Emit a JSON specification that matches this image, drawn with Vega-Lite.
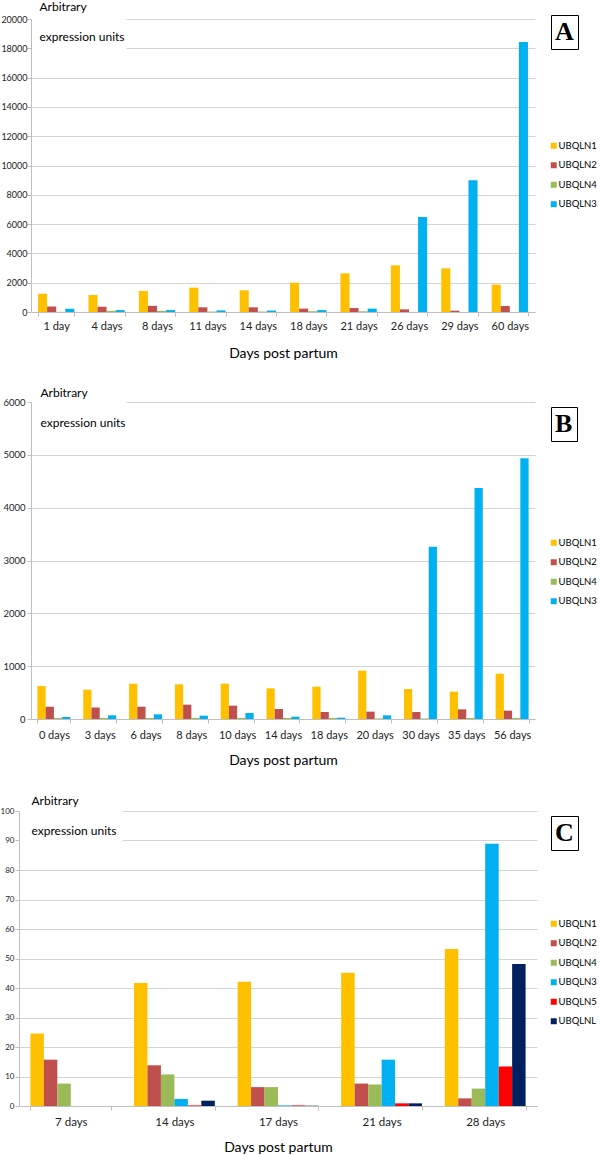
{
  "$schema": "https://vega.github.io/schema/vega-lite/v6.json",
  "padding": {"left": 0, "top": 0, "right": 0, "bottom": 0},
  "config": {
    "font": "Lato",
    "view": {"stroke": null},
    "axis": {"domainColor": "#BFBFBF", "tickColor": "#BFBFBF", "gridColor": "#D4D4D4", "labelColor": "#222", "labelFont": "Lato", "titleFont": "Lato", "titleFontWeight": "normal", "titleColor": "#000", "tickSize": 4},
    "legend": {"labelFont": "Lato", "labelColor": "#000"}
  },
  "datasets": {
    "A": [
      {"day": "1 day", "gene": "UBQLN1", "value": 1250, "panel": "A"},
      {"day": "1 day", "gene": "UBQLN2", "value": 370, "panel": "A"},
      {"day": "1 day", "gene": "UBQLN4", "value": 10, "panel": "A"},
      {"day": "1 day", "gene": "UBQLN3", "value": 220, "panel": "A"},
      {"day": "4 days", "gene": "UBQLN1", "value": 1160, "panel": "A"},
      {"day": "4 days", "gene": "UBQLN2", "value": 360, "panel": "A"},
      {"day": "4 days", "gene": "UBQLN4", "value": 80, "panel": "A"},
      {"day": "4 days", "gene": "UBQLN3", "value": 130, "panel": "A"},
      {"day": "8 days", "gene": "UBQLN1", "value": 1430, "panel": "A"},
      {"day": "8 days", "gene": "UBQLN2", "value": 420, "panel": "A"},
      {"day": "8 days", "gene": "UBQLN4", "value": 80, "panel": "A"},
      {"day": "8 days", "gene": "UBQLN3", "value": 130, "panel": "A"},
      {"day": "11 days", "gene": "UBQLN1", "value": 1660, "panel": "A"},
      {"day": "11 days", "gene": "UBQLN2", "value": 320, "panel": "A"},
      {"day": "11 days", "gene": "UBQLN4", "value": 30, "panel": "A"},
      {"day": "11 days", "gene": "UBQLN3", "value": 110, "panel": "A"},
      {"day": "14 days", "gene": "UBQLN1", "value": 1480, "panel": "A"},
      {"day": "14 days", "gene": "UBQLN2", "value": 320, "panel": "A"},
      {"day": "14 days", "gene": "UBQLN4", "value": 30, "panel": "A"},
      {"day": "14 days", "gene": "UBQLN3", "value": 100, "panel": "A"},
      {"day": "18 days", "gene": "UBQLN1", "value": 2000, "panel": "A"},
      {"day": "18 days", "gene": "UBQLN2", "value": 230, "panel": "A"},
      {"day": "18 days", "gene": "UBQLN4", "value": 50, "panel": "A"},
      {"day": "18 days", "gene": "UBQLN3", "value": 130, "panel": "A"},
      {"day": "21 days", "gene": "UBQLN1", "value": 2640, "panel": "A"},
      {"day": "21 days", "gene": "UBQLN2", "value": 270, "panel": "A"},
      {"day": "21 days", "gene": "UBQLN4", "value": 50, "panel": "A"},
      {"day": "21 days", "gene": "UBQLN3", "value": 230, "panel": "A"},
      {"day": "26 days", "gene": "UBQLN1", "value": 3190, "panel": "A"},
      {"day": "26 days", "gene": "UBQLN2", "value": 180, "panel": "A"},
      {"day": "26 days", "gene": "UBQLN4", "value": 0, "panel": "A"},
      {"day": "26 days", "gene": "UBQLN3", "value": 6490, "panel": "A"},
      {"day": "29 days", "gene": "UBQLN1", "value": 2980, "panel": "A"},
      {"day": "29 days", "gene": "UBQLN2", "value": 90, "panel": "A"},
      {"day": "29 days", "gene": "UBQLN4", "value": 0, "panel": "A"},
      {"day": "29 days", "gene": "UBQLN3", "value": 9000, "panel": "A"},
      {"day": "60 days", "gene": "UBQLN1", "value": 1870, "panel": "A"},
      {"day": "60 days", "gene": "UBQLN2", "value": 410, "panel": "A"},
      {"day": "60 days", "gene": "UBQLN4", "value": 0, "panel": "A"},
      {"day": "60 days", "gene": "UBQLN3", "value": 18430, "panel": "A"}
    ],
    "B": [
      {"day": "0 days", "gene": "UBQLN1", "value": 625, "panel": "B"},
      {"day": "0 days", "gene": "UBQLN2", "value": 233, "panel": "B"},
      {"day": "0 days", "gene": "UBQLN4", "value": 20, "panel": "B"},
      {"day": "0 days", "gene": "UBQLN3", "value": 38, "panel": "B"},
      {"day": "3 days", "gene": "UBQLN1", "value": 555, "panel": "B"},
      {"day": "3 days", "gene": "UBQLN2", "value": 220, "panel": "B"},
      {"day": "3 days", "gene": "UBQLN4", "value": 20, "panel": "B"},
      {"day": "3 days", "gene": "UBQLN3", "value": 70, "panel": "B"},
      {"day": "6 days", "gene": "UBQLN1", "value": 669, "panel": "B"},
      {"day": "6 days", "gene": "UBQLN2", "value": 233, "panel": "B"},
      {"day": "6 days", "gene": "UBQLN4", "value": 20, "panel": "B"},
      {"day": "6 days", "gene": "UBQLN3", "value": 88, "panel": "B"},
      {"day": "8 days", "gene": "UBQLN1", "value": 656, "panel": "B"},
      {"day": "8 days", "gene": "UBQLN2", "value": 271, "panel": "B"},
      {"day": "8 days", "gene": "UBQLN4", "value": 20, "panel": "B"},
      {"day": "8 days", "gene": "UBQLN3", "value": 63, "panel": "B"},
      {"day": "10 days", "gene": "UBQLN1", "value": 669, "panel": "B"},
      {"day": "10 days", "gene": "UBQLN2", "value": 252, "panel": "B"},
      {"day": "10 days", "gene": "UBQLN4", "value": 20, "panel": "B"},
      {"day": "10 days", "gene": "UBQLN3", "value": 114, "panel": "B"},
      {"day": "14 days", "gene": "UBQLN1", "value": 580, "panel": "B"},
      {"day": "14 days", "gene": "UBQLN2", "value": 189, "panel": "B"},
      {"day": "14 days", "gene": "UBQLN4", "value": 20, "panel": "B"},
      {"day": "14 days", "gene": "UBQLN3", "value": 44, "panel": "B"},
      {"day": "18 days", "gene": "UBQLN1", "value": 612, "panel": "B"},
      {"day": "18 days", "gene": "UBQLN2", "value": 132, "panel": "B"},
      {"day": "18 days", "gene": "UBQLN4", "value": 20, "panel": "B"},
      {"day": "18 days", "gene": "UBQLN3", "value": 25, "panel": "B"},
      {"day": "20 days", "gene": "UBQLN1", "value": 915, "panel": "B"},
      {"day": "20 days", "gene": "UBQLN2", "value": 139, "panel": "B"},
      {"day": "20 days", "gene": "UBQLN4", "value": 10, "panel": "B"},
      {"day": "20 days", "gene": "UBQLN3", "value": 70, "panel": "B"},
      {"day": "30 days", "gene": "UBQLN1", "value": 568, "panel": "B"},
      {"day": "30 days", "gene": "UBQLN2", "value": 132, "panel": "B"},
      {"day": "30 days", "gene": "UBQLN4", "value": 10, "panel": "B"},
      {"day": "30 days", "gene": "UBQLN3", "value": 3262, "panel": "B"},
      {"day": "35 days", "gene": "UBQLN1", "value": 517, "panel": "B"},
      {"day": "35 days", "gene": "UBQLN2", "value": 183, "panel": "B"},
      {"day": "35 days", "gene": "UBQLN4", "value": 20, "panel": "B"},
      {"day": "35 days", "gene": "UBQLN3", "value": 4372, "panel": "B"},
      {"day": "56 days", "gene": "UBQLN1", "value": 858, "panel": "B"},
      {"day": "56 days", "gene": "UBQLN2", "value": 158, "panel": "B"},
      {"day": "56 days", "gene": "UBQLN4", "value": 20, "panel": "B"},
      {"day": "56 days", "gene": "UBQLN3", "value": 4934, "panel": "B"}
    ],
    "C": [
      {"day": "7 days", "gene": "UBQLN1", "value": 24.6, "panel": "C"},
      {"day": "7 days", "gene": "UBQLN2", "value": 15.7, "panel": "C"},
      {"day": "7 days", "gene": "UBQLN4", "value": 7.6, "panel": "C"},
      {"day": "7 days", "gene": "UBQLN3", "value": 0, "panel": "C"},
      {"day": "7 days", "gene": "UBQLN5", "value": 0, "panel": "C"},
      {"day": "7 days", "gene": "UBQLNL", "value": 0, "panel": "C"},
      {"day": "14 days", "gene": "UBQLN1", "value": 41.7, "panel": "C"},
      {"day": "14 days", "gene": "UBQLN2", "value": 13.8, "panel": "C"},
      {"day": "14 days", "gene": "UBQLN4", "value": 10.7, "panel": "C"},
      {"day": "14 days", "gene": "UBQLN3", "value": 2.4, "panel": "C"},
      {"day": "14 days", "gene": "UBQLN5", "value": 0.2, "panel": "C"},
      {"day": "14 days", "gene": "UBQLNL", "value": 1.8, "panel": "C"},
      {"day": "17 days", "gene": "UBQLN1", "value": 42.1, "panel": "C"},
      {"day": "17 days", "gene": "UBQLN2", "value": 6.4, "panel": "C"},
      {"day": "17 days", "gene": "UBQLN4", "value": 6.4, "panel": "C"},
      {"day": "17 days", "gene": "UBQLN3", "value": 0.2, "panel": "C"},
      {"day": "17 days", "gene": "UBQLN5", "value": 0.2, "panel": "C"},
      {"day": "17 days", "gene": "UBQLNL", "value": 0.1, "panel": "C"},
      {"day": "21 days", "gene": "UBQLN1", "value": 45.2, "panel": "C"},
      {"day": "21 days", "gene": "UBQLN2", "value": 7.6, "panel": "C"},
      {"day": "21 days", "gene": "UBQLN4", "value": 7.3, "panel": "C"},
      {"day": "21 days", "gene": "UBQLN3", "value": 15.7, "panel": "C"},
      {"day": "21 days", "gene": "UBQLN5", "value": 0.9, "panel": "C"},
      {"day": "21 days", "gene": "UBQLNL", "value": 0.9, "panel": "C"},
      {"day": "28 days", "gene": "UBQLN1", "value": 53.2, "panel": "C"},
      {"day": "28 days", "gene": "UBQLN2", "value": 2.6, "panel": "C"},
      {"day": "28 days", "gene": "UBQLN4", "value": 5.9, "panel": "C"},
      {"day": "28 days", "gene": "UBQLN3", "value": 88.9, "panel": "C"},
      {"day": "28 days", "gene": "UBQLN5", "value": 13.4, "panel": "C"},
      {"day": "28 days", "gene": "UBQLNL", "value": 48.1, "panel": "C"}
    ]
  },
  "columns": 1,
  "spacing": 26,
  "align": "none",
  "resolve": {
    "scale": {"x": "independent", "y": "independent", "xOffset": "independent", "color": "independent", "opacity": "independent"},
    "legend": {"color": "independent", "opacity": "independent"}
  },
  "concat": [
    {
      "data": {"name": "A"},
      "width": 516,
      "height": 293,
      "mark": {"type": "bar"},
      "encoding": {
        "x": {"field": "day", "type": "nominal", "sort": null,
          "scale": {"range": [12, 516], "paddingInner": 0.28, "paddingOuter": 0.14},
          "axis": {"title": "Days post partum", "titleX": 264, "labelAngle": 0, "tickBand": "extent", "labelFontSize": 11, "labelPadding": 4, "titleFontSize": 14, "titlePadding": 15}},
        "xOffset": {"field": "gene", "type": "nominal", "sort": ["UBQLN1", "UBQLN2", "UBQLN4", "UBQLN3"], "scale": {"paddingInner": 0, "paddingOuter": 0}},
        "y": {"field": "value", "type": "quantitative", "scale": {"domain": [0, 20000], "nice": false},
          "axis": {"offset": -12, "values": [0, 2000, 4000, 6000, 8000, 10000, 12000, 14000, 16000, 18000, 20000], "format": "d",
            "title": ["Arbitrary", "expression units"], "titleAngle": 0, "titleAlign": "left", "titleBaseline": "top",
            "titleX": 8, "titleY": -18, "titleLineHeight": 30, "titleFontSize": 12, "labelFontSize": 9, "labelPadding": 0,
            "gridDash": {"condition": {"test": "datum.value >= 18000", "value": [0, 95, 2000]}, "value": []}}},
        "color": {"field": "gene", "type": "nominal",
          "scale": {"domain": ["UBQLN1", "UBQLN2", "UBQLN4", "UBQLN3"], "range": ["#FFC000", "#C0504D", "#9BBB59", "#00B0F0"]},
          "legend": {"orient": "none", "legendX": 530, "legendY": 122, "title": null, "padding": 0, "symbolType": "square", "symbolSize": 36, "symbolStrokeWidth": 0, "labelFontSize": 9.5, "labelOffset": 0, "rowPadding": 8.5}},
        "opacity": {"field": "panel", "type": "ordinal", "scale": {"range": [1, 1]},
          "legend": {"orient": "none", "legendX": 532, "legendY": -4, "title": null, "strokeColor": "#000", "fillColor": "#fff", "padding": 4,
            "symbolSize": 0, "symbolStrokeWidth": 0, "labelOffset": -26, "labelFont": "Liberation Serif", "labelFontWeight": "bold", "labelFontSize": 26,
            "labelExpr": "'\u00a0' + datum.label + '\u00a0'"}}
      }
    },
    {
      "columns": 1,
      "spacing": 27,
      "align": "none",
      "resolve": {
        "scale": {"x": "independent", "y": "independent", "xOffset": "independent", "color": "independent", "opacity": "independent"},
        "legend": {"color": "independent", "opacity": "independent"}
      },
      "concat": [
        {
          "data": {"name": "B"},
          "width": 516,
          "height": 317,
          "mark": {"type": "bar"},
          "encoding": {
            "x": {"field": "day", "type": "nominal", "sort": null,
              "scale": {"range": [12, 516], "paddingInner": 0.28, "paddingOuter": 0.14},
              "axis": {"title": "Days post partum", "titleX": 264, "labelAngle": 0, "tickBand": "extent", "labelFontSize": 11, "labelPadding": 6, "titleFontSize": 14, "titlePadding": 13}},
            "xOffset": {"field": "gene", "type": "nominal", "sort": ["UBQLN1", "UBQLN2", "UBQLN4", "UBQLN3"], "scale": {"paddingInner": 0, "paddingOuter": 0}},
            "y": {"field": "value", "type": "quantitative", "scale": {"domain": [0, 6000], "nice": false},
              "axis": {"offset": -12, "values": [0, 1000, 2000, 3000, 4000, 5000, 6000], "format": "d",
                "title": ["Arbitrary", "expression units"], "titleAngle": 0, "titleAlign": "left", "titleBaseline": "top",
                "titleX": 9, "titleY": -15, "titleLineHeight": 30, "titleFontSize": 12, "labelFontSize": 9.5, "labelPadding": 2,
                "gridDash": {"condition": {"test": "datum.value >= 6000", "value": [0, 95, 2000]}, "value": []}}},
            "color": {"field": "gene", "type": "nominal",
              "scale": {"domain": ["UBQLN1", "UBQLN2", "UBQLN4", "UBQLN3"], "range": ["#FFC000", "#C0504D", "#9BBB59", "#00B0F0"]},
              "legend": {"orient": "none", "legendX": 530, "legendY": 136, "title": null, "padding": 0, "symbolType": "square", "symbolSize": 36, "symbolStrokeWidth": 0, "labelFontSize": 9.5, "labelOffset": 0, "rowPadding": 8.5}},
            "opacity": {"field": "panel", "type": "ordinal", "scale": {"range": [1, 1]},
              "legend": {"orient": "none", "legendX": 532, "legendY": 5, "title": null, "strokeColor": "#000", "fillColor": "#fff", "padding": 4,
                "symbolSize": 0, "symbolStrokeWidth": 0, "labelOffset": -26, "labelFont": "Liberation Serif", "labelFontWeight": "bold", "labelFontSize": 26,
                "labelExpr": "'\u00a0' + datum.label + '\u00a0'"}}
          }
        },
        {
          "data": {"name": "C"},
          "width": 518,
          "height": 295,
          "mark": {"type": "bar"},
          "encoding": {
            "x": {"field": "day", "type": "nominal", "sort": null,
              "scale": {"paddingInner": 0.22, "paddingOuter": 0.11},
              "axis": {"title": "Days post partum", "labelAngle": 0, "tickBand": "extent", "labelFontSize": 11.5, "labelPadding": 6, "titleFontSize": 14, "titlePadding": 13}},
            "xOffset": {"field": "gene", "type": "nominal", "sort": ["UBQLN1", "UBQLN2", "UBQLN4", "UBQLN3", "UBQLN5", "UBQLNL"], "scale": {"paddingInner": 0, "paddingOuter": 0}},
            "y": {"field": "value", "type": "quantitative", "scale": {"domain": [0, 100], "nice": false},
              "axis": {"values": [0, 10, 20, 30, 40, 50, 60, 70, 80, 90, 100], "format": "d",
                "title": ["Arbitrary", "expression units"], "titleAngle": 0, "titleAlign": "left", "titleBaseline": "top",
                "titleX": 12, "titleY": -16, "titleLineHeight": 30, "titleFontSize": 12, "labelFontSize": 8, "labelPadding": 1,
                "gridDash": {"condition": {"test": "datum.value >= 90", "value": [0, 103, 2000]}, "value": []}}},
            "color": {"field": "gene", "type": "nominal",
              "scale": {"domain": ["UBQLN1", "UBQLN2", "UBQLN4", "UBQLN3", "UBQLN5", "UBQLNL"], "range": ["#FFC000", "#C0504D", "#9BBB59", "#00B0F0", "#FF0000", "#002060"]},
              "legend": {"orient": "none", "legendX": 530, "legendY": 108, "title": null, "padding": 0, "symbolType": "square", "symbolSize": 36, "symbolStrokeWidth": 0, "labelFontSize": 9.5, "labelOffset": 0, "rowPadding": 8.5}},
            "opacity": {"field": "panel", "type": "ordinal", "scale": {"range": [1, 1]},
              "legend": {"orient": "none", "legendX": 532, "legendY": 5, "title": null, "strokeColor": "#000", "fillColor": "#fff", "padding": 4,
                "symbolSize": 0, "symbolStrokeWidth": 0, "labelOffset": -26, "labelFont": "Liberation Serif", "labelFontWeight": "bold", "labelFontSize": 26,
                "labelExpr": "'\u00a0' + datum.label + '\u00a0'"}}
          }
        }
      ]
    }
  ]
}
